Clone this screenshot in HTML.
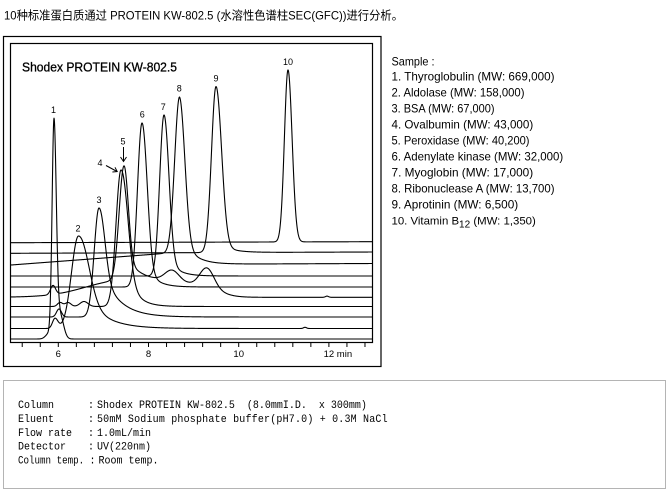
<!DOCTYPE html>
<html><head><meta charset="utf-8">
<style>
html,body{margin:0;padding:0;background:#fff;width:668px;height:492px;overflow:hidden}
svg{display:block}
.pre{white-space:pre}
</style></head><body>
<svg id="s" width="668" height="492" viewBox="0 0 668 492" xmlns="http://www.w3.org/2000/svg">
<rect width="668" height="492" fill="#fff"/>
<!-- Title -->
<text x="4" y="19.5" font-family="'Liberation Sans','Noto Sans CJK SC',sans-serif" font-size="12" fill="#000" textLength="399" lengthAdjust="spacingAndGlyphs">10种标准蛋白质通过 PROTEIN KW-802.5 (水溶性色谱柱SEC(GFC))进行分析。</text>

<!-- Chart frames -->
<rect x="3.5" y="36.5" width="377.5" height="330" fill="none" stroke="#000" stroke-width="1.2"/>
<rect x="10.5" y="43.5" width="362" height="299" fill="none" stroke="#000" stroke-width="1.2"/>

<text x="22" y="71.7" font-family="'Liberation Sans',sans-serif" font-size="13" fill="#000" stroke="#000" stroke-width="0.3" textLength="155" lengthAdjust="spacingAndGlyphs">Shodex PROTEIN KW-802.5</text>

<g id="ticks" stroke="#000" stroke-width="1"></g>
<g font-family="'Liberation Sans',sans-serif" font-size="9.5" fill="#000" text-anchor="middle">
<text x="58.3" y="357">6</text>
<text x="148.5" y="357">8</text>
<text x="238.7" y="357">10</text>
<text x="323.6" y="357" text-anchor="start">12 min</text>
</g>

<!-- Peak labels -->
<g font-family="'Liberation Sans',sans-serif" font-size="9" fill="#000" text-anchor="middle">
<text x="53.5" y="113">1</text>
<text x="78" y="231.5">2</text>
<text x="99" y="203">3</text>
<text x="100" y="166">4</text>
<text x="123" y="144.5">5</text>
<text x="142.3" y="117.5">6</text>
<text x="163.3" y="110">7</text>
<text x="179.3" y="91.5">8</text>
<text x="216" y="81.5">9</text>
<text x="288" y="65">10</text>
</g>
<!-- arrows -->
<g stroke="#000" stroke-width="1" fill="none">
<line x1="123.5" y1="147" x2="123.5" y2="161"/>
<polyline points="120.5,157 123.5,161.5 126.5,157"/>
<line x1="106" y1="165.5" x2="117" y2="171.5"/>
<polyline points="115,167.3 117.2,171.6 112.4,172"/>
</g>

<g id="traces" stroke="#000" stroke-width="1.1" fill="none" stroke-linejoin="round"></g>

<!-- Sample list -->
<g font-family="'Liberation Sans',sans-serif" font-size="11.8" fill="#000">
<text x="391.5" y="65.5" textLength="43" lengthAdjust="spacingAndGlyphs">Sample :</text>
<text x="391.5" y="80.5" textLength="163" lengthAdjust="spacingAndGlyphs">1. Thyroglobulin (MW: 669,000)</text>
<text x="391.5" y="96.5" textLength="133" lengthAdjust="spacingAndGlyphs">2. Aldolase (MW: 158,000)</text>
<text x="391.5" y="112.5" textLength="103" lengthAdjust="spacingAndGlyphs">3. BSA (MW: 67,000)</text>
<text x="391.5" y="128.5" textLength="141.7" lengthAdjust="spacingAndGlyphs">4. Ovalbumin (MW: 43,000)</text>
<text x="391.5" y="144.5" textLength="138" lengthAdjust="spacingAndGlyphs">5. Peroxidase (MW: 40,200)</text>
<text x="391.5" y="160.5" textLength="171.7" lengthAdjust="spacingAndGlyphs">6. Adenylate kinase (MW: 32,000)</text>
<text x="391.5" y="176.5" textLength="141.7" lengthAdjust="spacingAndGlyphs">7. Myoglobin (MW: 17,000)</text>
<text x="391.5" y="192.5" textLength="163" lengthAdjust="spacingAndGlyphs">8. Ribonuclease A (MW: 13,700)</text>
<text x="391.5" y="208.5" textLength="126.7" lengthAdjust="spacingAndGlyphs">9. Aprotinin (MW: 6,500)</text>
<text x="391.5" y="224.5" font-size="11.4">10. Vitamin B<tspan font-size="10" dy="3">12</tspan><tspan dy="-3"> (MW: 1,350)</tspan></text>
</g>

<!-- Conditions box -->
<rect x="3.5" y="380.5" width="662" height="108" fill="none" stroke="#b4b4b4" stroke-width="1"/>
<g font-family="'Liberation Mono',monospace" font-size="11.5" fill="#000">
<text class="pre" transform="matrix(0.87,0,0,1,18,408)">Column</text>
<text class="pre" transform="matrix(0.87,0,0,1,88,408)">:</text>
<text class="pre" transform="matrix(0.87,0,0,1,97,408)">Shodex PROTEIN KW-802.5  (8.0mmI.D.  x 300mm)</text>

<text class="pre" transform="matrix(0.87,0,0,1,18,422)">Eluent</text>
<text class="pre" transform="matrix(0.87,0,0,1,88,422)">:</text>
<text class="pre" transform="matrix(0.87,0,0,1,97,422)" textLength="334" lengthAdjust="spacing">50mM Sodium phosphate buffer(pH7.0) + 0.3M NaCl</text>

<text class="pre" transform="matrix(0.87,0,0,1,18,435.8)">Flow rate</text>
<text class="pre" transform="matrix(0.87,0,0,1,88,435.8)">:</text>
<text class="pre" transform="matrix(0.87,0,0,1,97,435.8)">1.0mL/min</text>

<text class="pre" transform="matrix(0.87,0,0,1,18,449.7)">Detector</text>
<text class="pre" transform="matrix(0.87,0,0,1,88,449.7)">:</text>
<text class="pre" transform="matrix(0.87,0,0,1,97,449.7)">UV(220nm)</text>

<text class="pre" transform="matrix(0.87,0,0,1,18,463.4)" textLength="76" lengthAdjust="spacingAndGlyphs">Column temp.</text>
<text class="pre" transform="matrix(0.87,0,0,1,89.5,463.4)">:</text>
<text class="pre" transform="matrix(0.87,0,0,1,98.5,463.4)">Room temp.</text>
</g>
</svg>
<script>
(function(){
var NS="http://www.w3.org/2000/svg";
var tg=document.getElementById("ticks");
for(var k=0;k<20;k++){
  var t=5.2+0.4*k, x=58.3+(t-6)*45.1;
  var l=document.createElementNS(NS,"line");
  l.setAttribute("x1",x.toFixed(2));l.setAttribute("x2",x.toFixed(2));
  l.setAttribute("y1","342.5");l.setAttribute("y2","347");
  tg.appendChild(l);
}
function sig(z){return 1/(1+Math.exp(-z));}
function G(x,c,h,sl,sr){var d=x-c,s=d<0?sl:sr;return h*Math.exp(-d*d/(2*s*s));}
function T(x,c,h,s,tau){if(x<=c)return 0;var d=x-c;return h*(1-Math.exp(-d*d/(2*s*s)))*Math.exp(-d/tau);}
function lin(x,a,b){return a+(b-a)*(x-11)/(372-11);}
var tr=[
 function(x){return 339-(G(x,54,219,1.9,2.3)+G(x,60,24,2.5,3.5)+G(x,49.5,6,3.5,2));},
 function(x){return 328.5-(G(x,78.5,92.5,7,9.5)+T(x,78.5,45,10,20)+G(x,55,10,2.5,3)+G(x,305,1.2,1.5,1.5));},
 function(x){return 317-(G(x,99,109,4.8,5.5)+T(x,99,55,6,17)+G(x,59,8,2.5,2.5));},
 function(x){return 306.5-(G(x,121,136.5,5,6.2)+T(x,121,60,6,10)+G(x,60,4,2.5,2.5)+G(x,68,4,3,3)+G(x,84,5,4,4));},
 function(x){var P=20*sig((x-85)/18)*sig((222-x)/8)*Math.max(0,1-0.006*Math.max(0,x-140));
   return 297.3-(G(x,124,113.5,4.8,4.2)+T(x,124,30,5,10)+P+G(x,53,9,2.5,2.5)+G(x,172,11,7,7)+G(x,207,19,7,7)+G(x,327,1.2,1.5,1.5));},
 function(x){return 287-(G(x,142,164,4.5,5)+T(x,142,30,5,10));},
 function(x){return 276-(G(x,164,161,4.3,4.8)+T(x,164,25,5,10));},
 function(x){var hump=x<179.5?12*(x-11)/168.5:12*Math.exp(-(x-179.5)/12);
   return lin(x,265,263.5)-hump-(G(x,179.5,155.3,4.8,5.2)+T(x,179.5,20,5,12));},
 function(x){return lin(x,253.3,252)-(G(x,216,166,4.5,5.5)+T(x,216,12,5,12));},
 function(x){return lin(x,242.7,241.7)-G(x,288,172,3.6,4.1);}
];
var g=document.getElementById("traces");
for(var i=0;i<tr.length;i++){
  var d="";
  for(var x=11;x<=372.001;x+=0.25){
    var y=tr[i](x);
    d+=(x===11?"M":"L")+x.toFixed(2)+" "+y.toFixed(2);
  }
  var p=document.createElementNS(NS,"path");
  p.setAttribute("d",d);
  g.appendChild(p);
}
})();
</script>
</body></html>
